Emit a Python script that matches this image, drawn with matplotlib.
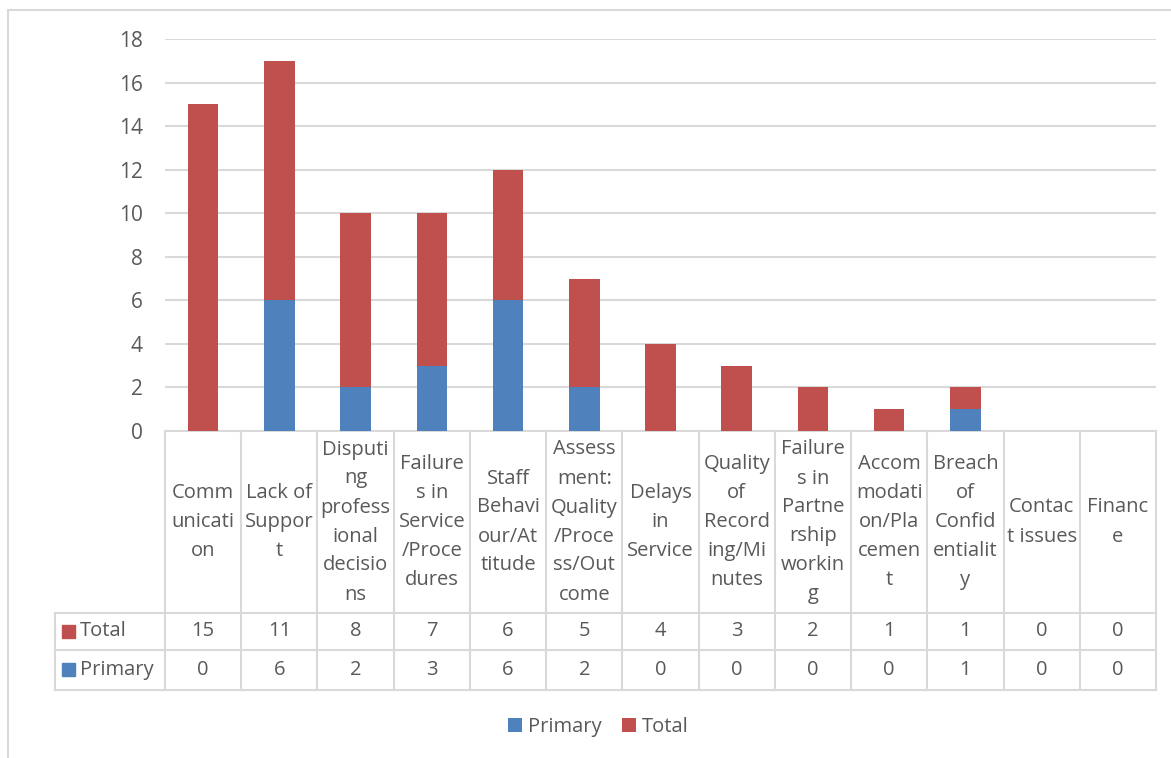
import matplotlib.pyplot as plt
import matplotlib.transforms as mtransforms
from matplotlib.lines import Line2D
from matplotlib.patches import Rectangle

# categories, as wrapped inside the data table cells
categories = [
    "Comm\nunicati\non",
    "Lack of\nSuppor\nt",
    "Disputi\nng\nprofess\nional\ndecisio\nns",
    "Failure\ns in\nService\n/Proce\ndures",
    "Staff\nBehavi\nour/At\ntitude",
    "Assess\nment:\nQuality\n/Proce\nss/Out\ncome",
    "Delays\nin\nService",
    "Quality\nof\nRecord\ning/Mi\nnutes",
    "Failure\ns in\nPartne\nrship\nworkin\ng",
    "Accom\nmodati\non/Pla\ncemen\nt",
    "Breach\nof\nConfid\nentialit\ny",
    "Contac\nt issues",
    "Financ\ne",
]
primary = [0, 6, 2, 3, 6, 2, 0, 0, 0, 0, 1, 0, 0]
total = [15, 11, 8, 7, 6, 5, 4, 3, 2, 1, 1, 0, 0]
yticks = [0, 2, 4, 6, 8, 10, 12, 14, 16, 18]

BLUE = "#4F81BD"
RED = "#C0504D"
TXT = "#595959"
GRID = "#D9D9D9"
FONT = ["Open Sans", "DejaVu Sans"]
FS = 14.5

W, H = 1171, 758
plt.rcParams["font.family"] = FONT

fig = plt.figure(figsize=(W / 100, H / 100), dpi=100)


def fy(py):
    return 1 - py / H


# plot area in pixels
left_px, right_px, top_px, base_px = 165, 1156, 39, 431
ax = fig.add_axes([left_px / W, fy(base_px), (right_px - left_px) / W, (base_px - top_px) / H])

x = list(range(len(categories)))
b1 = ax.bar(x, primary, width=0.4, color=BLUE, zorder=3, label="Primary")
b2 = ax.bar(x, total, width=0.4, bottom=primary, color=RED, zorder=3, label="Total")

ax.set_xlim(-0.5, len(categories) - 0.5)
ax.set_ylim(0, 18)
ax.set_yticks(yticks)
ax.set_xticks([])
ax.tick_params(axis="y", length=0, pad=16, labelsize=15, labelcolor=TXT)
ax.grid(axis="y", color=GRID, linewidth=1.5, zorder=0)
for s in ["top", "right", "left"]:
    ax.spines[s].set_visible(False)
ax.spines["bottom"].set_color(GRID)
ax.spines["bottom"].set_linewidth(1.5)

# data table below the axis: x in data units, y in figure fraction
tr = mtransforms.blended_transform_factory(ax.transData, fig.transFigure)
header_bot, total_bot, primary_bot = 613, 650, 690
lc = dict(color=GRID, linewidth=1.5, transform=tr, clip_on=False)

for i in range(len(categories) + 1):
    xe = i - 0.5
    fig.add_artist(Line2D([xe, xe], [fy(base_px), fy(primary_bot)], **lc))
for py in [header_bot, total_bot, primary_bot]:
    fig.add_artist(Line2D([-0.5, len(categories) - 0.5], [fy(py), fy(py)], **lc))

# row label column on the left
lc_fig = dict(color=GRID, linewidth=1.5, transform=fig.transFigure)
lab_left = 55 / W
for py in [header_bot, total_bot, primary_bot]:
    fig.add_artist(Line2D([lab_left, left_px / W], [fy(py), fy(py)], **lc_fig))
fig.add_artist(Line2D([lab_left, lab_left], [fy(header_bot), fy(primary_bot)], **lc_fig))

for i, cat in enumerate(categories):
    fig.text(i, fy((base_px + header_bot) / 2), cat, transform=tr, ha="center", va="center",
             fontsize=FS, color=TXT, linespacing=1.6)
    fig.text(i, fy((header_bot + total_bot) / 2), str(total[i]), transform=tr, ha="center",
             va="center", fontsize=FS, color=TXT)
    fig.text(i, fy((total_bot + primary_bot) / 2), str(primary[i]), transform=tr, ha="center",
             va="center", fontsize=FS, color=TXT)

for name, col, y0, y1 in [("Total", RED, header_bot, total_bot), ("Primary", BLUE, total_bot, primary_bot)]:
    yc = (y0 + y1) / 2
    fig.add_artist(Rectangle((62 / W, fy(yc + 6)), 13 / W, 13 / H, color=col, transform=fig.transFigure))
    fig.text(80 / W, fy(yc), name, ha="left", va="center", fontsize=FS, color=TXT)

# legend
fig.legend(handles=[b1, b2], loc="center", bbox_to_anchor=(598 / W, fy(727)), ncol=2, frameon=False,
           fontsize=FS, labelcolor=TXT, handlelength=0.7, handleheight=0.7, handletextpad=0.3,
           columnspacing=1.0)

# chart area border (top and left edges visible)
fig.add_artist(Line2D([8 / W, 1], [fy(10), fy(10)], color=GRID, linewidth=1.5, transform=fig.transFigure))
fig.add_artist(Line2D([8 / W, 8 / W], [fy(10), 0], color=GRID, linewidth=1.5, transform=fig.transFigure))

fig.savefig("out.png", dpi=100)
